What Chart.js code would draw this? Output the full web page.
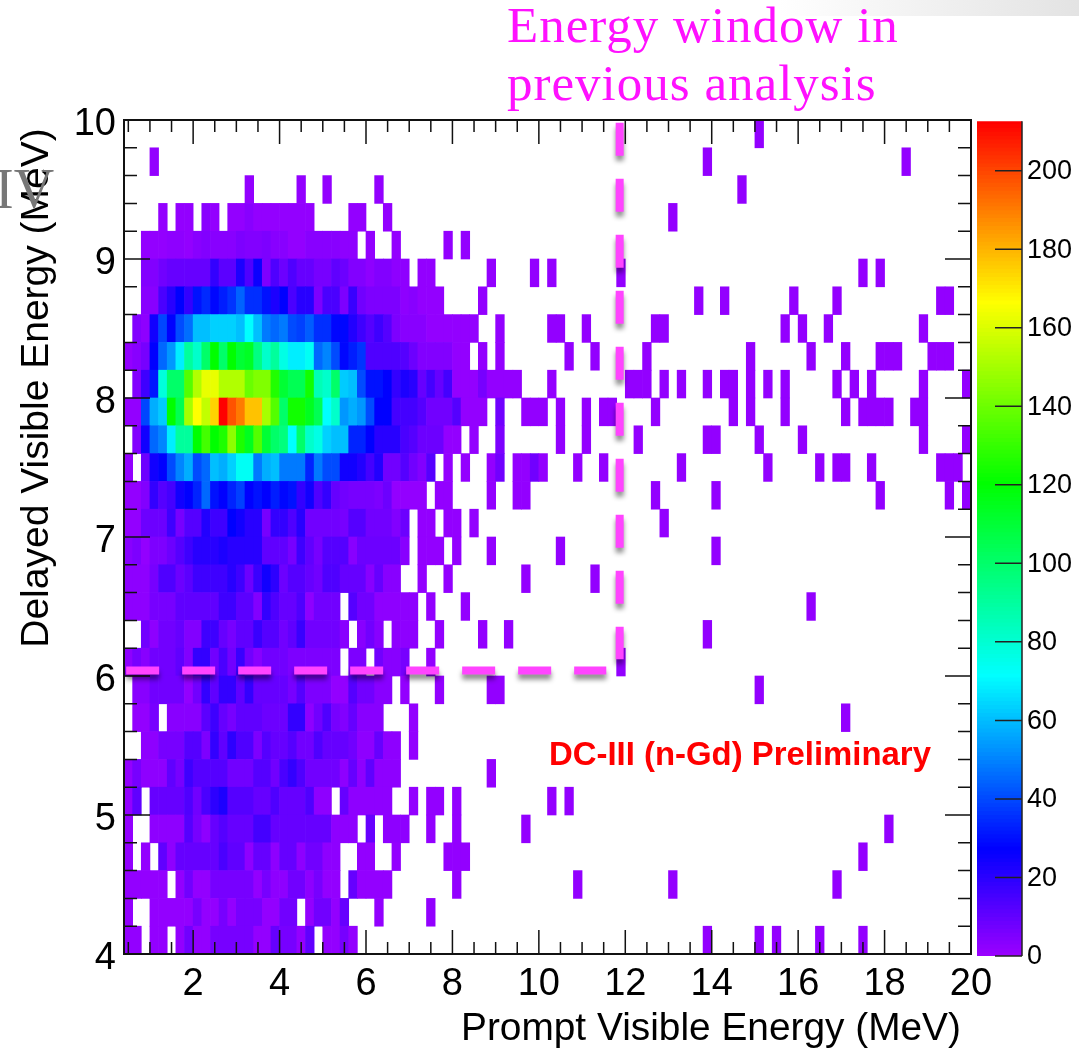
<!DOCTYPE html>
<html>
<head>
<meta charset="utf-8">
<title>Delayed vs prompt visible energy</title>
<script src="https://cdn.jsdelivr.net/npm/chart.js@4"></script>
<style>
  html, body { margin: 0; padding: 0; background: #fff; width: 1079px; height: 1051px; overflow: hidden; }
  #mapChart { position: absolute; left: 0; top: 0; }
  #barChart { position: absolute; left: 960px; top: 100px; }
  .note { position: absolute; white-space: nowrap; line-height: 1; }
  #corner { position: absolute; right: 0; top: 0; width: 300px; height: 16px;
    background: linear-gradient(to right, #ffffff, #e3e3e3); }
  #xTitle, #yTitle { font-family: "Liberation Sans", sans-serif; color: #000; }
  #xTitle { font-size: 38.85px; left: 461px; top: 1008px; }
  #yTitle { font-size: 39px; left: 34px; top: 388px; transform: translate(-50%, -50%) rotate(-90deg); }
  #window1, #window2 { font-family: "Liberation Serif", serif; font-size: 51px; color: #ff11ff; letter-spacing: 1px; left: 507px; }
  #window1 { top: 0px; }
  #window2 { top: 58px; }
  #tag { font-family: "Liberation Sans", sans-serif; font-weight: bold; font-size: 32.9px; color: #ff0000; left: 549px; top: 738px; }
  #iv { font-family: "Liberation Serif", serif; font-size: 56px; color: #777; left: -5px; top: 161px; }
</style>
</head>
<body>
<canvas id="mapChart" width="1079" height="1051"></canvas>
<canvas id="barChart" width="119" height="951"></canvas>
<div id="corner"></div>
<div class="note" id="xTitle">Prompt Visible Energy (MeV)</div>
<div class="note" id="yTitle">Delayed Visible Energy (MeV)</div>
<div class="note" id="window1">Energy window in</div>
<div class="note" id="window2">previous analysis</div>
<div class="note" id="tag">DC-III (n-Gd) Preliminary</div>
<div class="note" id="iv">IV</div>
<script>
const xTicks = [2, 4, 6, 8, 10, 12, 14, 16, 18, 20];
const yTicks = [4, 5, 6, 7, 8, 9, 10];
const zTicks = [0, 20, 40, 60, 80, 100, 120, 140, 160, 180, 200];

// counts per bin, top row first, column 0 starts at 0.4 MeV, bins are 0.2 x 0.2 MeV
const rowCounts = [
  [],
  [],
  [],
  [0,0,0,0,1,0,1,1,0,3,1,0,1,1,3,1,1,1,1,1,1,1,0,0,0,0,1,1,0,0,1],
  [0,0,1,1,1,2,2,1,3,4,3,3,3,5,4,4,5,3,3,1,1,3,3,3,3,2,2,0,1,0,0,1],
  [0,0,4,4,7,9,9,9,9,9,18,11,11,22,13,25,5,13,8,13,9,9,6,6,10,8,4,4,2,4,4,2,2,0,1,1],
  [0,0,3,3,14,20,27,18,30,34,28,32,36,44,35,35,30,22,27,14,20,20,5,14,14,5,17,7,5,5,5,5,2,3,1,1,1],
  [0,4,2,24,39,27,40,46,60,60,63,63,63,60,71,60,48,45,48,40,38,43,35,35,28,28,21,16,12,16,12,5,3,3,3,1,1,1,1,1,1],
  [1,3,6,27,45,53,68,90,81,100,120,100,120,110,113,95,81,90,76,68,68,73,45,50,40,28,32,36,13,13,13,13,12,8,4,4,4,4,1,1,0,1,0,1],
  [0,4,16,31,78,100,100,135,152,162,162,152,152,152,139,143,143,126,110,104,104,123,85,81,100,62,60,40,30,30,27,18,22,20,9,15,9,15,1,1,1,6,1,1,1,1],
  [1,1,39,57,62,120,104,150,166,155,174,212,197,190,177,177,150,135,100,123,123,114,104,71,81,53,57,53,40,27,27,15,15,15,12,7,7,7,12,1,1,1,0,7,0,0,1,1,1],
  [0,4,24,45,50,68,90,90,120,132,120,125,145,125,114,135,110,100,96,71,100,81,76,63,60,60,33,33,27,20,20,20,14,12,8,8,8,1,1,0,1,0,0,5],
  [1,0,8,24,27,40,50,57,40,45,60,57,63,73,73,48,57,60,48,48,48,33,48,40,40,24,24,21,15,21,7,7,12,7,4,12,0,1,0,1,0,0,1,7,0,1,1,7,1],
  [1,1,4,18,12,15,24,27,33,45,30,27,33,38,27,30,27,32,28,30,18,24,13,18,9,7,6,6,6,5,8,1,1,1,1,0,1,1],
  [1,1,8,8,8,16,6,12,12,21,16,16,27,24,20,20,6,18,18,13,20,7,7,7,7,6,12,12,7,7,7,4,8,0,1,1,0,1,1,0,1],
  [3,5,1,5,5,8,12,16,20,20,20,22,20,20,20,20,10,10,10,6,16,10,6,12,12,12,3,8,8,8,8,8,3,0,1,1,1,0,1,0,0,0,1],
  [2,2,2,6,13,13,8,11,16,16,16,16,20,16,8,17,24,19,8,12,12,9,7,13,13,9,9,9,3,9,3,3,0,0,1,0,0,1],
  [2,2,2,6,6,6,10,10,10,10,10,16,16,11,11,4,18,13,9,9,13,2,7,7,7,0,12,7,7,2,2,2,2,2,0,1,0,0,0,1],
  [0,0,7,2,7,7,9,4,4,16,16,9,6,10,10,17,12,12,7,10,17,7,7,7,7,3,0,3,7,3,0,2,2,2,0,0,1],
  [2,6,3,7,7,7,10,4,18,18,7,14,7,17,7,3,7,7,7,5,5,5,5,5,5,0,5,5,0,7,3,3,6,0,0,1],
  [0,3,3,7,7,7,7,1,7,18,10,18,18,10,18,9,9,9,9,6,12,5,5,5,1,1,12,7,7,3,3,0,1,0,0,0,1],
  [0,1,1,6,0,3,3,3,3,11,16,9,6,10,10,10,8,8,8,18,18,2,7,13,6,4,9,3,3,3,0,0,0,1],
  [0,0,2,2,6,6,6,12,12,5,18,10,19,13,13,5,12,9,9,12,7,7,13,9,9,9,7,2,2,9,2,2,0,1],
  [1,6,2,2,2,10,6,16,12,12,12,12,7,7,7,12,12,7,14,18,13,7,7,7,7,2,9,2,10,2,2,2],
  [1,10,0,9,9,9,9,13,7,14,19,22,12,12,12,9,9,13,9,9,9,13,2,2,0,9,2,2,2,2,2,0,0,1,0,1,1,0,1],
  [1,0,0,2,2,2,2,12,6,2,9,12,9,9,9,15,15,9,9,9,9,9,9,9,2,2,2,0,9,0,2,2,2,0,0,1,0,0,1],
  [1,0,1,0,10,2,9,9,9,9,9,14,10,10,2,9,9,2,9,9,2,7,7,2,2,0,0,1,1,0,0,1,0,0,0,0,0,1,1,1],
  [1,1,1,1,1,0,1,7,1,1,6,6,6,6,6,1,6,2,2,7,7,2,6,1,1,0,9,1,1,1,1,0,0,0,0,0,0,0,1],
  [1,0,0,1,1,1,1,1,6,1,1,6,1,6,6,6,1,1,7,7,0,1,7,7,1,9,0,0,0,1,0,0,0,0,0,1],
  [1,1,0,1,1,0,1,7,1,1,6,6,6,6,6,1,1,9,6,6,1,10,0,1,1,6,1]
];

// lone single-count bins further out, listed by column for each row
const loneColumns = [
  [73],
  [3,67,90],
  [14,20,23,29,71],
  [63],
  [37,39],
  [42,47,49,57,85,87],
  [41,66,69,77,82,94,95],
  [43,49,50,53,61,62,76,78,81,92],
  [51,54,60,72,79,83,87,88,89,93,94,95],
  [49,58,59,60,62,64,67,69,70,72,74,76,82,84,86,92,97],
  [50,53,55,56,61,70,72,76,83,85,86,87,88,91,92],
  [50,53,59,67,68,73,78,92,97],
  [52,55,64,74,80,82,83,86,94,95,96],
  [42,45,46,61,68,87,95,97],
  [62],
  [50,68],
  [46,54],
  [79],
  [41,44,67],
  [57],
  [42,43,73],
  [83],
  [],
  [42],
  [49,51],
  [46,88],
  [85],
  [52,63,82],
  [],
  [67,73,75,80,85]
];

// the dashed box of the earlier analysis
const windowBottomX = [0.45, 11.56];
const windowBottomY = [6.04, 6.04];
const windowSideX = [11.87, 11.87];
const windowSideY = [9.98, 6.12];

const xMin = 0.4, xMax = 20, yMin = 4, yMax = 10, zMax = 212.6, binSize = 0.2;

const colorStops = [
  [0, 153, 0, 255],
  [27, 0, 0, 255],
  [71, 0, 255, 255],
  [120, 0, 255, 0],
  [166, 255, 255, 0],
  [212, 255, 0, 0]
];

function countColor(v) {
  for (let i = 1; i < colorStops.length; i++) {
    const a = colorStops[i - 1], b = colorStops[i];
    if (v <= b[0]) {
      const t = (v - a[0]) / (b[0] - a[0]);
      return `rgb(${Math.round(a[1] + (b[1] - a[1]) * t)},${Math.round(a[2] + (b[2] - a[2]) * t)},${Math.round(a[3] + (b[3] - a[3]) * t)})`;
    }
  }
  return 'rgb(255,0,0)';
}

const cells = [];
function addCell(row, col, v) {
  cells.push({
    x: xMin + (col + 0.5) * binSize,
    y: [yMax - (row + 1) * binSize, yMax - row * binSize],
    v: v
  });
}
rowCounts.forEach((counts, row) => {
  counts.forEach((v, col) => { if (v > 0) addCell(row, col, v); });
  loneColumns[row].forEach(col => addCell(row, col, 1));
});

const zLevels = [];
for (let z = 0; z < zMax; z += 1) zLevels.push({ x: 0.5, y: [z, z + 1.1], v: z });

// ROOT style frame with inward ticks, drawn over the cells and under the dashes
const frameTicks = {
  id: 'frameTicks',
  afterDatasetDraw(chart, args) {
    if (args.index !== 0) return;
    const { ctx, chartArea: area, scales: { x, y } } = chart;
    ctx.save();
    ctx.strokeStyle = '#111';
    ctx.lineWidth = 1.5;
    ctx.beginPath();
    for (let v = 0.5; v <= xMax; v += 0.5) {
      const px = x.getPixelForValue(v);
      const len = v % 2 === 0 ? 24 : 12;
      ctx.moveTo(px, area.bottom); ctx.lineTo(px, area.bottom - len);
      ctx.moveTo(px, area.top); ctx.lineTo(px, area.top + len);
    }
    for (let i = 0; i <= 30; i++) {
      const py = y.getPixelForValue(yMin + i * binSize);
      const len = i % 5 === 0 ? 26 : 13;
      ctx.moveTo(area.left, py); ctx.lineTo(area.left + len, py);
      ctx.moveTo(area.right, py); ctx.lineTo(area.right - len, py);
    }
    ctx.stroke();
    ctx.lineWidth = 2;
    ctx.strokeRect(area.left, area.top, area.right - area.left, area.bottom - area.top);
    ctx.restore();
  },
  beforeDatasetDraw(chart, args) {
    if (args.index === 0) return;
    const ctx = chart.ctx;
    ctx.save();
    ctx.shadowColor = 'rgba(0,0,0,0.45)';
    ctx.shadowBlur = 5;
    ctx.shadowOffsetY = 5;
  }
};
const restoreShadow = {
  id: 'restoreShadow',
  afterDatasetDraw(chart, args) {
    if (args.index !== 0) chart.ctx.restore();
  }
};

new Chart(document.getElementById('mapChart'), {
  type: 'bar',
  data: {
    datasets: [
      {
        data: cells,
        backgroundColor: cells.map(c => countColor(c.v)),
        borderWidth: 0,
        barPercentage: 1,
        categoryPercentage: 1,
        order: 2
      },
      {
        type: 'line',
        data: windowBottomX.map((x, i) => ({ x: x, y: windowBottomY[i] })),
        borderColor: '#ff44ff',
        borderWidth: 8,
        borderDash: [33, 23],
        pointRadius: 0,
        fill: false,
        order: 1
      },
      {
        type: 'line',
        data: windowSideX.map((x, i) => ({ x: x, y: windowSideY[i] })),
        borderColor: '#ff44ff',
        borderWidth: 8,
        borderDash: [33, 23],
        pointRadius: 0,
        fill: false,
        order: 1
      }
    ]
  },
  options: {
    responsive: false,
    animation: false,
    events: [],
    layout: { padding: { top: 120, right: 108, left: 0, bottom: 0 } },
    plugins: { legend: { display: false }, tooltip: { enabled: false } },
    scales: {
      x: {
        type: 'linear',
        offset: false,
        min: xMin,
        max: xMax,
        afterBuildTicks: s => { s.ticks = xTicks.map(v => ({ value: v })); },
        afterFit: s => { s.height = 97; },
        grid: { display: false, drawTicks: false },
        border: { display: false },
        ticks: { color: '#000', padding: 8, maxRotation: 0, autoSkip: false, font: { family: 'Liberation Sans', size: 38 } }
      },
      y: {
        type: 'linear',
        min: yMin,
        max: yMax,
        afterBuildTicks: s => { s.ticks = yTicks.map(v => ({ value: v })); },
        afterFit: s => { s.width = 124; },
        grid: { display: false, drawTicks: false },
        border: { display: false },
        ticks: { color: '#000', padding: 8, labelOffset: 5, autoSkip: false, font: { family: 'Liberation Sans', size: 38 } }
      }
    }
  },
  plugins: [frameTicks, restoreShadow]
});

const barTicks = {
  id: 'barTicks',
  afterDatasetsDraw(chart) {
    const { ctx, chartArea: area, scales: { y } } = chart;
    ctx.save();
    ctx.strokeStyle = '#222';
    ctx.lineWidth = 1.5;
    ctx.beginPath();
    ctx.moveTo(area.right, area.top); ctx.lineTo(area.right, area.bottom);
    zTicks.forEach(v => {
      const py = y.getPixelForValue(v);
      ctx.moveTo(area.right, py); ctx.lineTo(area.right - 27, py);
    });
    ctx.stroke();
    ctx.restore();
  }
};

new Chart(document.getElementById('barChart'), {
  type: 'bar',
  data: {
    datasets: [{
      data: zLevels,
      backgroundColor: zLevels.map(c => countColor(c.v)),
      borderWidth: 0,
      barThickness: 45
    }]
  },
  options: {
    responsive: false,
    animation: false,
    events: [],
    layout: { padding: { top: 21, left: 17, right: 0, bottom: 0 } },
    plugins: { legend: { display: false }, tooltip: { enabled: false } },
    scales: {
      x: { type: 'linear', offset: false, min: 0, max: 1, display: false, afterFit: s => { s.height = 95; } },
      y: {
        type: 'linear',
        position: 'right',
        min: 0,
        max: zMax,
        afterBuildTicks: s => { s.ticks = zTicks.map(v => ({ value: v })); },
        afterFit: s => { s.width = 57; },
        grid: { display: false, drawTicks: false },
        border: { display: false },
        ticks: { color: '#000', padding: 5, labelOffset: 1, autoSkip: false, font: { family: 'Liberation Sans', size: 27 } }
      }
    }
  },
  plugins: [barTicks]
});
</script>
</body>
</html>
